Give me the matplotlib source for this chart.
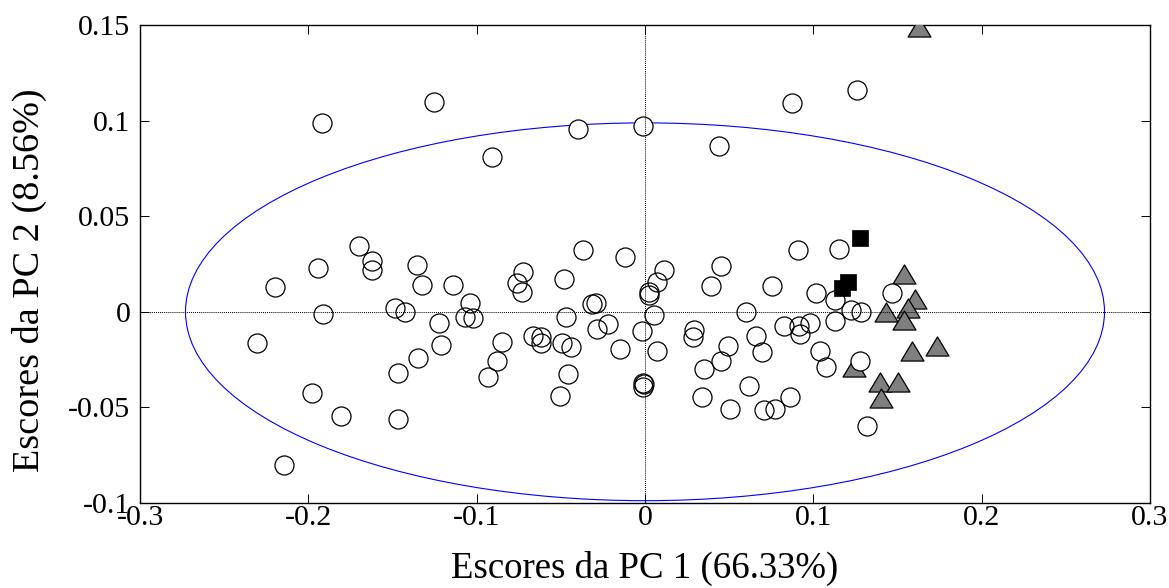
import numpy as np
import matplotlib
matplotlib.use("Agg")
import matplotlib.pyplot as plt
from matplotlib.patches import Ellipse
from matplotlib.path import Path

plt.rcParams['font.family'] = ['Liberation Serif', 'DejaVu Serif']

# scores of the samples on PC1 / PC2
pc1_amostras = [-0.1917, -0.1253, -0.1699, -0.1941, -0.1624, -0.1620, -0.1353, -0.2198,
                -0.1322, -0.1911, -0.1485, -0.1426, -0.2307, -0.1349, -0.1466, -0.1976,
                -0.1806, -0.1466, -0.2146, -0.0396, -0.0907, -0.0014, -0.0367, -0.0119,
                0.0115, -0.0723, -0.0481, -0.1139, -0.1040, -0.0762, -0.0733, -0.0317,
                -0.0293, 0.0026, 0.0024, 0.0070, -0.1222, -0.1069, -0.1024, -0.0471,
                0.0055, -0.0287, -0.0222, -0.0020, -0.1214, -0.0848, -0.0664, -0.0620,
                -0.0620, -0.0495, -0.0441, -0.0149, 0.0070, -0.0881, -0.0931, -0.0459,
                -0.0505, -0.0006, -0.0014, -0.0009, 0.0873, 0.1259, 0.0441, 0.0911,
                0.1153, 0.0451, 0.0390, 0.0753, 0.1016, 0.1129, 0.1221, 0.1281,
                0.1469, 0.0600, 0.0826, 0.0915, 0.0980, 0.0921, 0.1129, 0.0291,
                0.0287, 0.0658, 0.0697, 0.0491, 0.0451, 0.0350, 0.1040, 0.1075,
                0.1275, 0.0618, 0.0339, 0.0503, 0.0707, 0.0772, 0.0861, 0.1321]
pc2_amostras = [0.0986, 0.1099, 0.0346, 0.0229, 0.0266, 0.0216, 0.0247, 0.0130,
                0.0140, -0.0012, 0.0018, 0.0001, -0.0162, -0.0242, -0.0319, -0.0423,
                -0.0543, -0.0562, -0.0801, 0.0956, 0.0808, 0.0972, 0.0323, 0.0288,
                0.0221, 0.0208, 0.0174, 0.0140, 0.0048, 0.0149, 0.0102, 0.0039,
                0.0048, 0.0102, 0.0090, 0.0157, -0.0060, -0.0026, -0.0031, -0.0029,
                -0.0017, -0.0092, -0.0064, -0.0099, -0.0174, -0.0156, -0.0127, -0.0130,
                -0.0162, -0.0162, -0.0186, -0.0196, -0.0205, -0.0256, -0.0343, -0.0327,
                -0.0439, -0.0380, -0.0392, -0.0372, 0.1090, 0.1160, 0.0869, 0.0323,
                0.0328, 0.0237, 0.0135, 0.0135, 0.0097, 0.0064, 0.0009, -0.0003,
                0.0100, -0.0003, -0.0073, -0.0073, -0.0060, -0.0116, -0.0047, -0.0095,
                -0.0130, -0.0127, -0.0212, -0.0177, -0.0257, -0.0301, -0.0207, -0.0287,
                -0.0256, -0.0388, -0.0447, -0.0508, -0.0514, -0.0508, -0.0447, -0.0597]

pc1_triang = [0.1628, 0.1539, 0.1604, 0.1564, 0.1430, 0.1539, 0.1588, 0.1736,
              0.1242, 0.1396, 0.1505, 0.1400]
pc2_triang = [0.1488, 0.0198, 0.0067, 0.0018, -0.0003, -0.0043, -0.0203, -0.0179,
              -0.0287, -0.0369, -0.0369, -0.0453]

pc1_quad = [0.1277, 0.1204, 0.1169]
pc2_quad = [0.0384, 0.0157, 0.0123]

# semi-axes of the confidence ellipse
elipse_a = 0.273
elipse_b = 0.0988

xticks = [-0.3, -0.2, -0.1, 0, 0.1, 0.2, 0.3]
xticklabels = ['-0.3', '-0.2', '-0.1', '0', '0.1', '0.2', '0.3']
yticks = [-0.1, -0.05, 0, 0.05, 0.1, 0.15]
yticklabels = ['-0.1', '-0.05', '0', '0.05', '0.1', '0.15']

fig = plt.figure(figsize=(11.69, 5.88), dpi=100)
ax = fig.add_axes([0.1198, 0.1446, 0.8639, 0.8129])

# wide triangle marker
tri = Path([(-1.2, -1.0), (1.2, -1.0), (0.0, 1.0), (-1.2, -1.0)],
           [Path.MOVETO, Path.LINETO, Path.LINETO, Path.CLOSEPOLY])

ax.axhline(0, color='k', lw=0.7, ls=(0, (1, 1)), zorder=3.5)
ax.axvline(0, color='k', lw=0.7, ls=(0, (1, 1)), zorder=3.5)

ax.add_patch(Ellipse((0, 0), 2 * elipse_a, 2 * elipse_b, fill=False,
                     edgecolor='#0000ff', lw=0.8, zorder=2))

ax.plot(pc1_triang, pc2_triang, ls='none', marker=tri, ms=16.5,
        mfc='#7f7f7f', mec='k', mew=0.9, zorder=3)
# faces first, then outlines, so overlapping circles keep their edges
ax.plot(pc1_amostras, pc2_amostras, ls='none', marker='o', ms=13.7,
        mfc='w', mec='none', zorder=3.2)
ax.plot(pc1_amostras, pc2_amostras, ls='none', marker='o', ms=13.7,
        mfc='none', mec='k', mew=0.9, zorder=4)
ax.plot(pc1_quad, pc2_quad, ls='none', marker='s', ms=11.5,
        mfc='k', mec='k', mew=0.5, zorder=5)

ax.set_xlim(-0.3, 0.3)
ax.set_ylim(-0.1, 0.15)
ax.set_xticks(xticks)
ax.set_xticklabels(xticklabels)
ax.set_yticks(yticks)
ax.set_yticklabels(yticklabels)
ax.tick_params(direction='in', length=6.5, width=0.7, top=True, right=True,
               labelsize=21.5)
ax.tick_params(axis='x', pad=1.5)
ax.tick_params(axis='y', pad=7)
for s in ax.spines.values():
    s.set_linewidth(1.0)

ax.set_xlabel('Escores da PC 1 (66.33%)', fontsize=26.5, labelpad=14)
ax.set_ylabel('Escores da PC 2 (8.56%)', fontsize=27.5)
ax.yaxis.set_label_coords(-0.092, 0.466)

fig.savefig('out.png', dpi=100)
